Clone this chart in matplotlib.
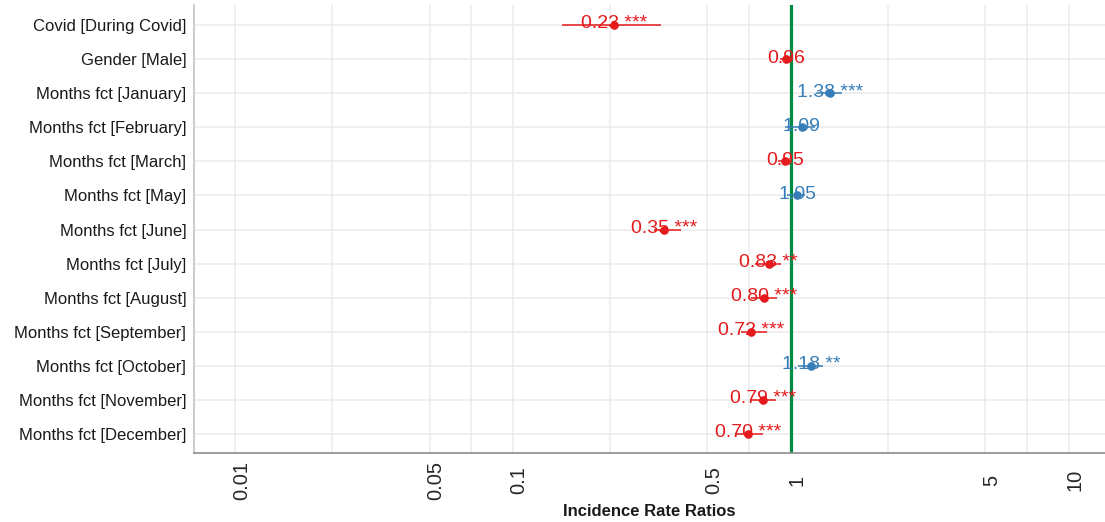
import numpy as np
import matplotlib
matplotlib.use("Agg")
import matplotlib.pyplot as plt
import matplotlib.transforms as mtransforms

plt.rcParams['font.family'] = ['Liberation Sans', 'DejaVu Sans']

# Model terms (top to bottom) with incidence rate ratios and 95% CIs
terms = ["Covid [During Covid]", "Gender [Male]", "Months fct [January]",
         "Months fct [February]", "Months fct [March]", "Months fct [May]",
         "Months fct [June]", "Months fct [July]", "Months fct [August]",
         "Months fct [September]", "Months fct [October]",
         "Months fct [November]", "Months fct [December]"]
irr = [0.23, 0.96, 1.38, 1.09, 0.95, 1.05, 0.35, 0.83, 0.80, 0.72, 1.18, 0.79, 0.70]
ci_low = [0.15, 0.91, 1.23, 0.95, 0.90, 0.97, 0.32, 0.74, 0.72, 0.66, 1.06, 0.71, 0.63]
ci_high = [0.34, 1.00, 1.53, 1.22, 0.99, 1.12, 0.40, 0.92, 0.89, 0.82, 1.30, 0.88, 0.79]
stars = ["***", "", "***", "", "", "", "***", "**", "***", "***", "**", "***", "***"]

x_breaks = [0.01, 0.05, 0.1, 0.5, 1, 5, 10]
x_break_labels = ["0.01", "0.05", "0.1", "0.5", "1", "5", "10"]

RED = "#E41A1C"
BLUE = "#377EB8"
VLINE = "#008B45"
GRID = "#EBEBEB"

fig = plt.figure(figsize=(11.05, 5.22), dpi=100)
ax = fig.add_axes([194 / 1105, 69 / 522, 911 / 1105, 448 / 522])

n = len(terms)
ypos = np.arange(n)[::-1]

ax.set_xscale('log')
ax.set_xlim(0.0071, 13.47)
ax.set_ylim(-0.557, n - 1 + 0.587)

# grid: majors at breaks, minors midway (in log space) between breaks
minor = [np.sqrt(a * b) for a, b in zip(x_breaks[:-1], x_breaks[1:])]
ax.set_xticks(x_breaks)
ax.set_xticklabels(x_break_labels)
ax.set_xticks(minor, minor=True)
ax.set_xticklabels([], minor=True)
ax.set_yticks(ypos)
ax.set_yticklabels(terms)
ax.grid(True, which='major', axis='both', color=GRID, linewidth=1.1, zorder=0)
ax.grid(True, which='minor', axis='x', color=GRID, linewidth=1.1, zorder=0)
ax.set_axisbelow(True)

ax.tick_params(axis='both', which='both', length=0)
ax.tick_params(axis='y', labelsize=12, labelcolor='#1a1a1a', pad=5.5)
ax.tick_params(axis='x', labelsize=14.5, labelcolor='#262626', pad=19.5,
               labelrotation=90)
shift = mtransforms.ScaledTranslation(6 / 100, 0, fig.dpi_scale_trans)
for lab in ax.get_xticklabels():
    lab.set_transform(lab.get_transform() + shift)
    lab.set_verticalalignment('center')

for side in ['top', 'right']:
    ax.spines[side].set_visible(False)
ax.spines['left'].set_color('#c4c4c4')
ax.spines['left'].set_linewidth(1.2)
ax.spines['bottom'].set_color('#8c8c8c')
ax.spines['bottom'].set_linewidth(1.2)

# reference line at IRR = 1
ax.axvline(1, color=VLINE, linewidth=2.3, zorder=1.5)

for y, est, lo, hi, s in zip(ypos, irr, ci_low, ci_high, stars):
    col = RED if est < 1 else BLUE
    ax.plot([lo, hi], [y, y], color=col, linewidth=1.1, zorder=3,
            solid_capstyle='butt')
    ax.plot(est, y, 'o', color=col, markersize=5.2, zorder=4)
    label = f"{est:.2f} {s}".strip()
    ax.annotate(label, xy=(est, y), xytext=(0, -2.5), textcoords='offset points',
                ha='center', va='baseline', fontsize=14, color=col, zorder=5)

ax.set_xlabel("Incidence Rate Ratios", fontsize=12, fontweight='bold',
              color='#1a1a1a')
ax.xaxis.set_label_coords(0.5, -58 / 448)
ax.xaxis.label.set_va('center')

fig.savefig("out.png", dpi=100)
